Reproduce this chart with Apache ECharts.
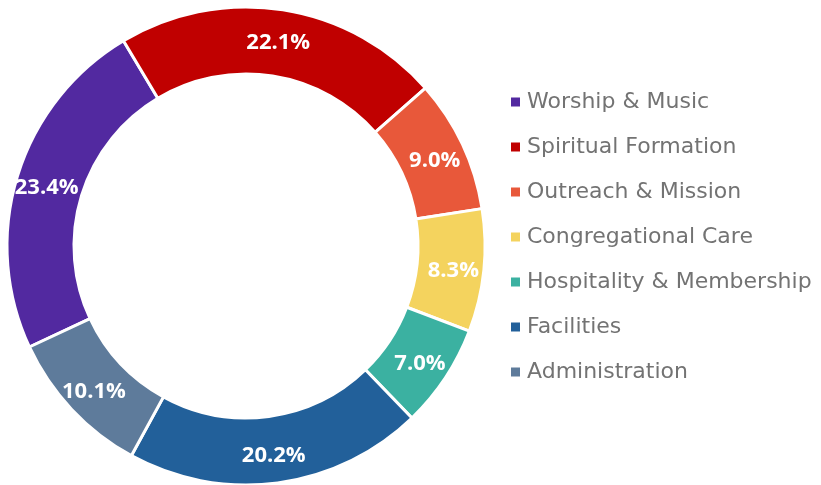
<!DOCTYPE html>
<html><head><meta charset="utf-8">
<script src="https://cdn.jsdelivr.net/npm/echarts@6/dist/echarts.min.js"></script>
<style>html,body{margin:0;padding:0;background:#fff}#c{width:821px;height:485px}</style>
</head><body><div id="c"></div>
<script>
const categories = ["Worship & Music","Spiritual Formation","Outreach & Mission","Congregational Care","Hospitality & Membership","Facilities","Administration"];
const values = [23.4, 22.1, 9.0, 8.3, 7.0, 20.2, 10.1];
const colors = ["#5229A0","#C00000","#E8583A","#F4D35E","#3BB1A1","#22609A","#5E7B9B"];

const chart = echarts.init(document.getElementById('c'));
chart.setOption({
  animation:false,
  legend:{
    orient:'vertical', left:504, top:86, itemGap:23,
    itemWidth:11, itemHeight:11, icon:'rect',
    textStyle:{color:'#737373', fontSize:22, lineHeight:22, fontFamily:'DejaVu Sans', padding:[0,0,0,1]},
    data: categories
  },
  series:[{
    type:'pie', center:[246,246], radius:[172,239],
    startAngle:205, clockwise:true, avoidLabelOverlap:false,
    itemStyle:{borderColor:'#fff', borderWidth:3},
    label:{show:true, position:'inside', color:'#fff', fontWeight:'bold', fontSize:22,
      fontFamily:'Open Sans', offset:[0,3], formatter: p => p.value.toFixed(1) + '%'},
    labelLine:{show:false},
    data: categories.map((n,i)=>({name:n, value:values[i], itemStyle:{color:colors[i]}}))
  }]
});
</script></body></html>
